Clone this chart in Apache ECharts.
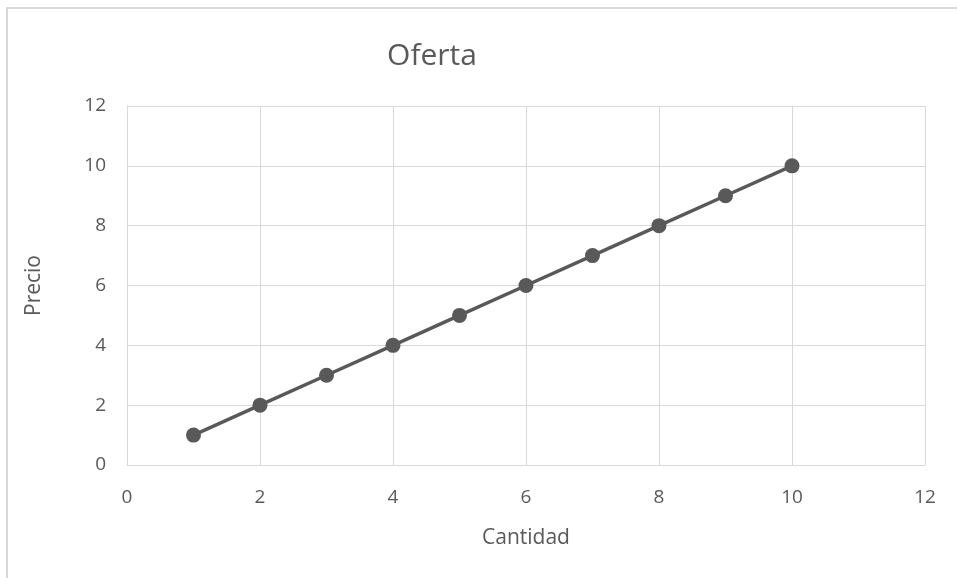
<!DOCTYPE html>
<html>
<head>
<meta charset="utf-8">
<script src="https://cdn.jsdelivr.net/npm/echarts@6/dist/echarts.min.js"></script>
<style>
html,body{margin:0;padding:0;background:#fff;}
#frame{position:absolute;left:6px;top:7px;width:1000px;height:600px;border-left:2px solid #d9d9d9;border-top:2px solid #d9d9d9;}
#chart{position:absolute;left:0;top:0;width:957px;height:578px;}
</style>
</head>
<body>
<div id="frame"></div>
<div id="chart"></div>
<script>
const titleText = 'Oferta';
const xName = 'Cantidad';
const yName = 'Precio';
const cantidad = [1, 2, 3, 4, 5, 6, 7, 8, 9, 10];
const precio = [1, 2, 3, 4, 5, 6, 7, 8, 9, 10];

const points = cantidad.map((x, i) => [x, precio[i]]);
const fontFam = '"Open Sans", "Noto Sans", sans-serif';
const chart = echarts.init(document.getElementById('chart'));
chart.setOption({
  animation: false,
  backgroundColor: 'transparent',
  title: {
    text: titleText,
    left: 427, top: 36, textAlign: 'center',
    textStyle: {color: '#595959', fontSize: 30, fontWeight: 'normal', fontFamily: fontFam}
  },
  grid: {left: 127, right: 32, top: 106, bottom: 113, containLabel: false},
  xAxis: {
    type: 'value', min: 0, max: 12, interval: 2,
    name: xName, nameLocation: 'middle', nameGap: 63,
    nameTextStyle: {color: '#595959', fontSize: 21, fontFamily: fontFam},
    axisLine: {show: true, lineStyle: {color: '#d9d9d9', width: 1}},
    axisTick: {show: false},
    axisLabel: {color: '#595959', fontSize: 19, margin: 23, fontFamily: fontFam},
    splitLine: {show: true, lineStyle: {color: '#d9d9d9', width: 1}}
  },
  yAxis: {
    type: 'value', min: 0, max: 12, interval: 2,
    name: yName, nameLocation: 'middle', nameGap: 82,
    nameTextStyle: {color: '#595959', fontSize: 21, fontFamily: fontFam},
    axisLine: {show: true, lineStyle: {color: '#d9d9d9', width: 1}},
    axisTick: {show: false},
    axisLabel: {color: '#595959', fontSize: 19, margin: 21, fontFamily: fontFam},
    splitLine: {show: true, lineStyle: {color: '#d9d9d9', width: 1}}
  },
  series: [{
    type: 'line',
    data: points,
    symbol: 'circle', symbolSize: 15,
    lineStyle: {color: '#595959', width: 3.5},
    itemStyle: {color: '#595959'}
  }]
});
</script>
</body>
</html>
